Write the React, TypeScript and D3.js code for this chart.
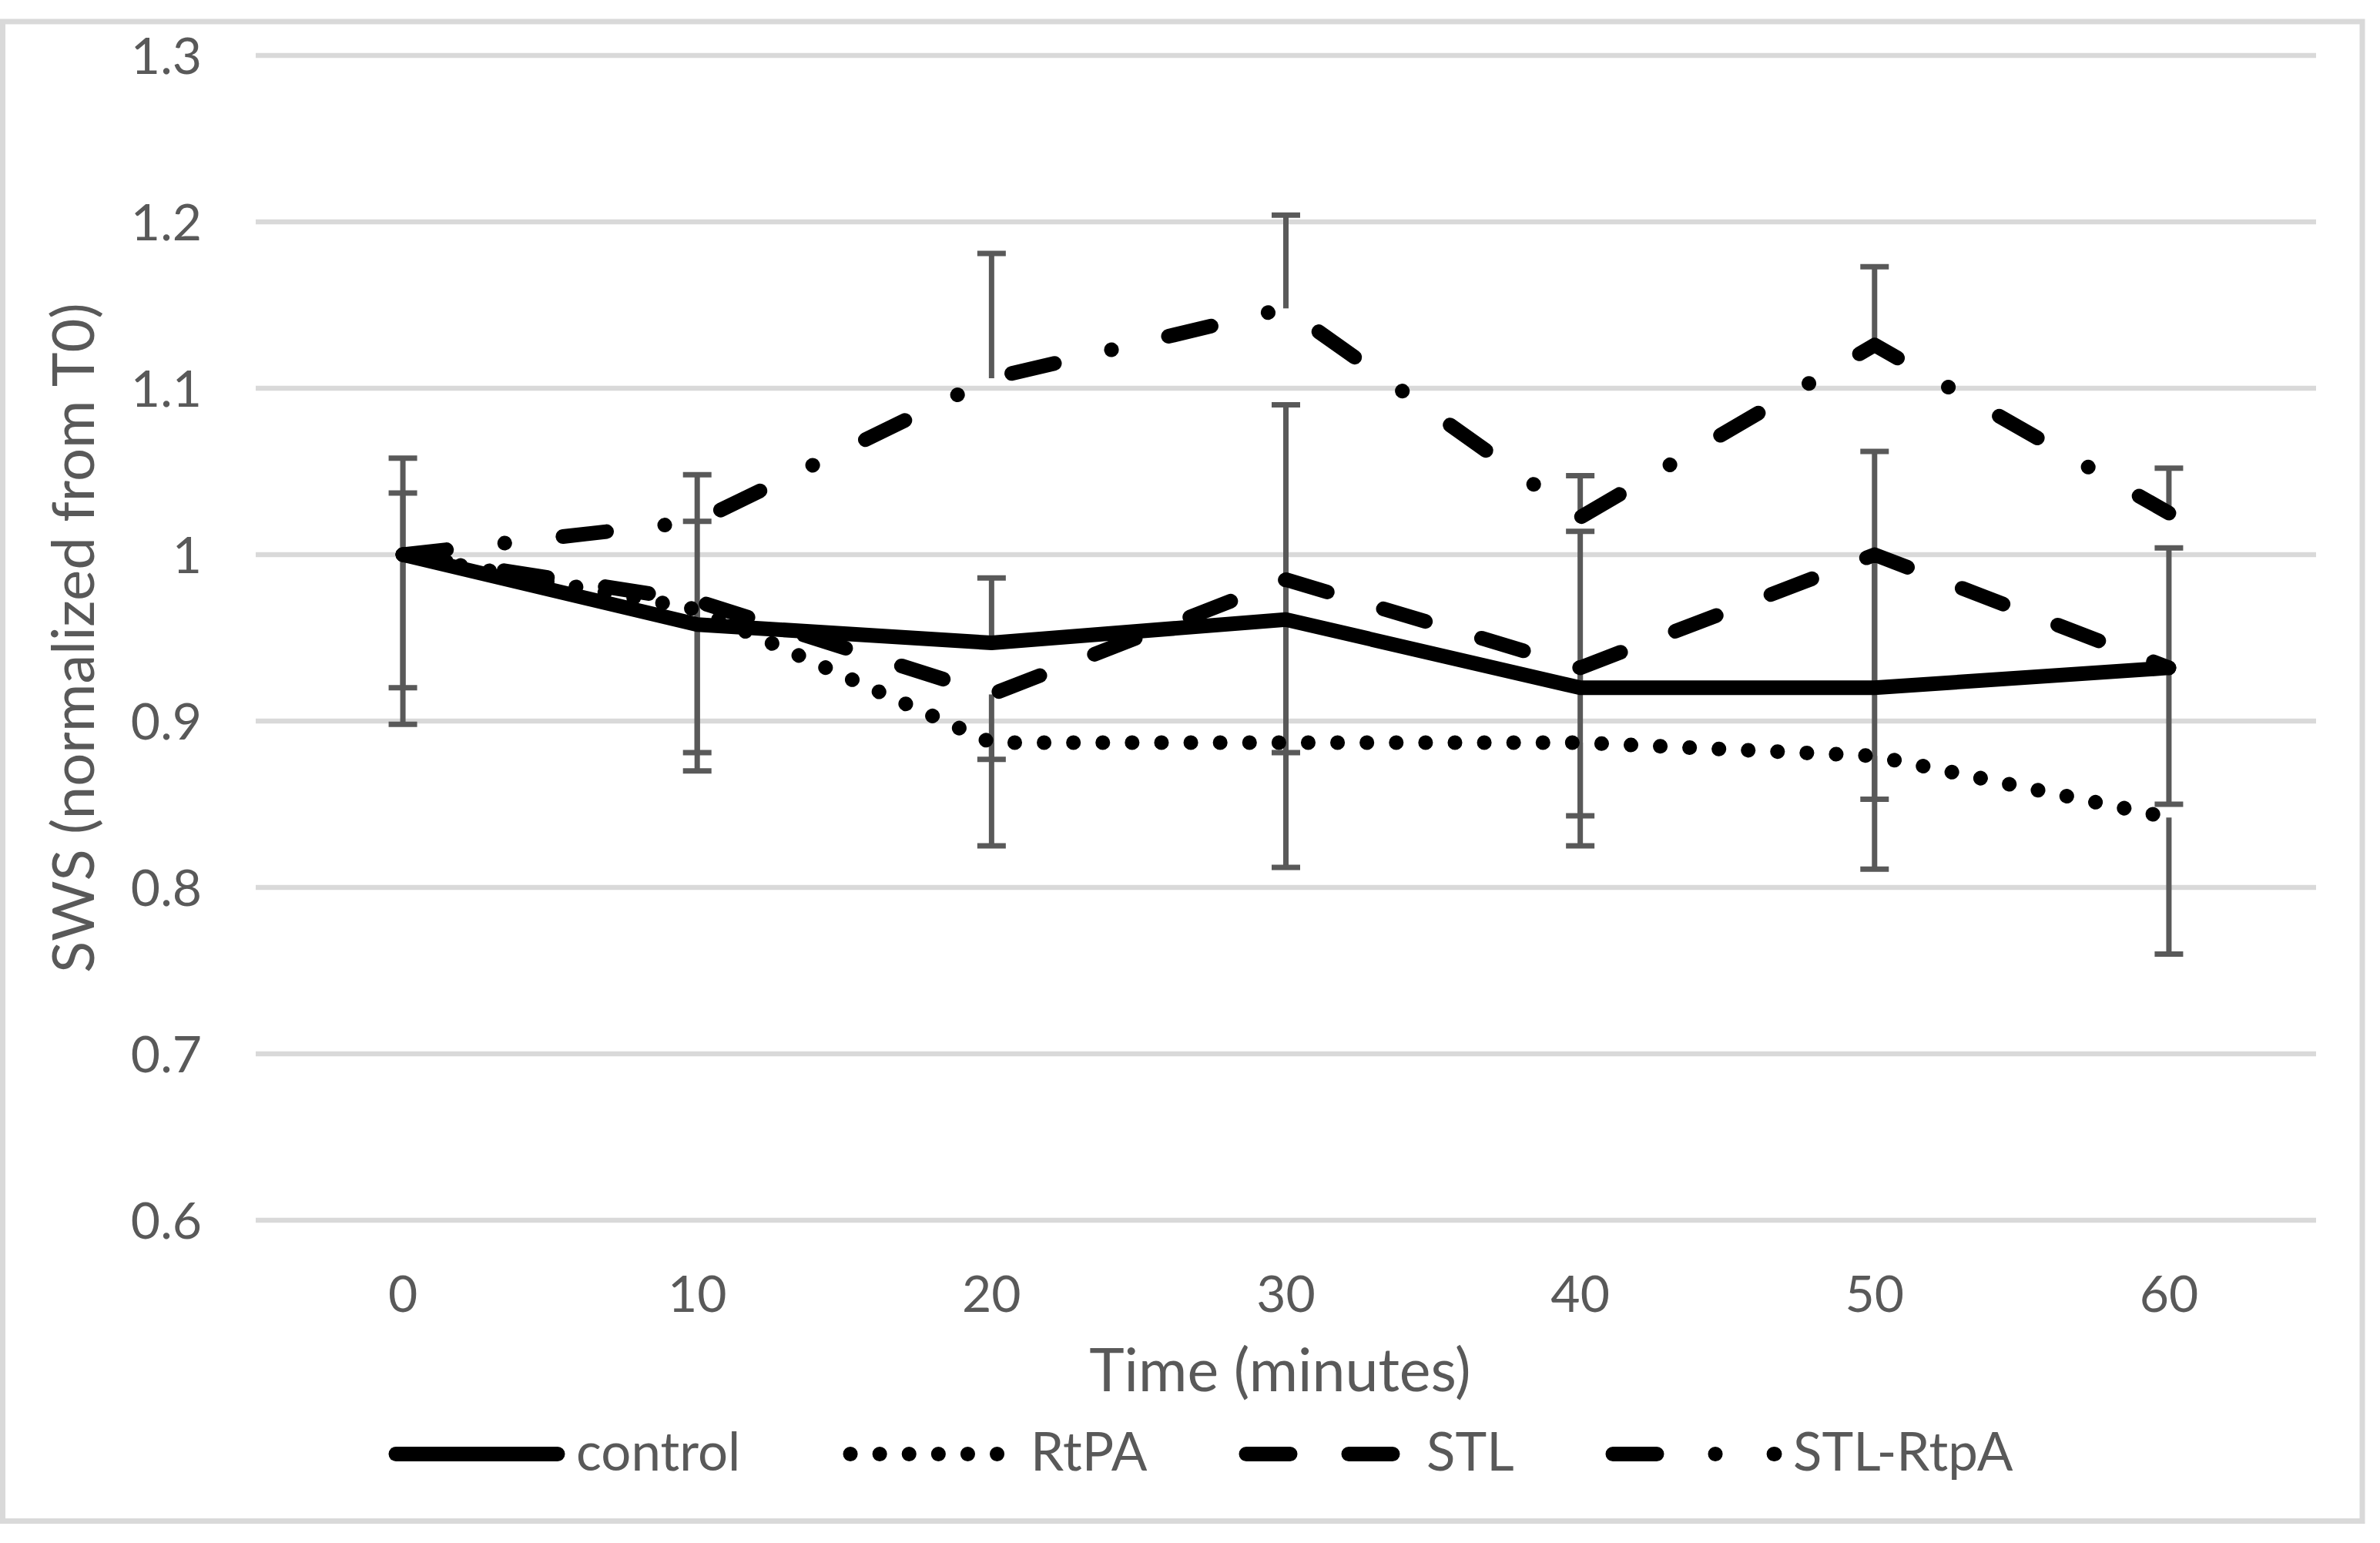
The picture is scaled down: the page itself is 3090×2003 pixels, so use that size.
import React from "react";
import * as d3 from "d3";

// ---- data ----
const times = [0, 10, 20, 30, 40, 50, 60];
const yTickValues = [0.6, 0.7, 0.8, 0.9, 1.0, 1.1, 1.2, 1.3];

const control = [1.0, 0.958, 0.947, 0.961, 0.92, 0.92, 0.932];
const rtpa = [1.0, 0.967, 0.887, 0.887, 0.887, 0.879, 0.842];
const stl = [1.0, 0.972, 0.916, 0.985, 0.932, 1.0, 0.932];
const stlRtpa = [1.0, 1.02, 1.106, 1.148, 1.0224, 1.126, 1.025];

// one-directional error bars (Excel style)
const controlErrPlus = [0.037, 0.062, 0.039, 0.129, 0.094, 0.142, 0.072];
const stlRtpaErrPlus = [0.058, 0.028, 0.075, 0.056, 0.025, 0.047, 0.027];
const rtpaErrMinus = [0.102, 0.097, 0.062, 0.075, 0.062, 0.068, 0.082];
const stlErrMinus = [0.08, 0.091, 0.039, 0.104, 0.089, 0.147, 0.082];

const seriesNames = ["control", "RtPA", "STL", "STL-RtpA"];
const xTitle = "Time (minutes)";
const yTitle = "SWS (normalized from T0)";

// ---- styling ----
const W = 3090;
const H = 2003;
const TEXT = "#595959";
const GRID = "#d9d9d9";
const FONT = "Lato, 'Open Sans', sans-serif";
const LW = 19;
const dashes: Record<string, string | undefined> = {
  control: undefined,
  RtPA: "0.1 38",
  STL: "57 76",
  "STL-RtpA": "57 76 0.1 76",
};

export default function App() {
  const x = d3.scalePoint<number>().domain(times).range([332, 3007]).padding(0.5);
  const y = d3.scaleLinear().domain([0.6, 1.3]).range([1584, 72]);

  const seriesValues: Record<string, number[]> = {
    control,
    RtPA: rtpa,
    STL: stl,
    "STL-RtpA": stlRtpa,
  };

  const line = d3
    .line<[number, number]>()
    .x((d) => x(d[0]) as number)
    .y((d) => y(d[1]));

  const errorSpecs = [
    { vals: control, errs: controlErrPlus, dir: 1 },
    { vals: stlRtpa, errs: stlRtpaErrPlus, dir: 1 },
    { vals: rtpa, errs: rtpaErrMinus, dir: -1 },
    { vals: stl, errs: stlErrMinus, dir: -1 },
  ];

  const fmt = (v: number) => String(Math.round(v * 10) / 10);

  const legendStarts = [514, 1104, 1618, 2094];
  const legendLen = 210;
  const legendY = 1887.5;

  return (
    <svg
      width={W}
      height={H}
      viewBox={`0 0 ${W} ${H}`}
      style={{ position: "absolute", left: 0, top: 0, background: "#fff" }}
    >
      <rect x={0} y={0} width={W} height={H} fill="#fff" />
      <rect
        x={3.5}
        y={28}
        width={3067 - 3.5}
        height={1974.5 - 28}
        fill="#fff"
        stroke={GRID}
        strokeWidth={7}
      />

      {/* gridlines */}
      {yTickValues.map((v) => (
        <line
          key={"g" + v}
          x1={332}
          x2={3007}
          y1={y(v)}
          y2={y(v)}
          stroke={GRID}
          strokeWidth={6.5}
        />
      ))}

      {/* y tick labels */}
      {yTickValues.map((v) => (
        <text
          key={"yt" + v}
          x={262}
          y={y(v)}
          dy="0.36em"
          textAnchor="end"
          fontFamily={FONT}
          fontSize={66}
          fill={TEXT}
        >
          {fmt(v)}
        </text>
      ))}

      {/* x tick labels */}
      {times.map((t) => (
        <text
          key={"xt" + t}
          x={x(t) as number}
          y={1703}
          textAnchor="middle"
          fontFamily={FONT}
          fontSize={66}
          fill={TEXT}
        >
          {t}
        </text>
      ))}

      {/* axis titles */}
      <text
        x={1662}
        y={1806}
        textAnchor="middle"
        fontFamily={FONT}
        fontSize={77}
        fill={TEXT}
      >
        {xTitle}
      </text>
      <text
        transform={`translate(122, ${(72 + 1584) / 2}) rotate(-90)`}
        textAnchor="middle"
        fontFamily={FONT}
        fontSize={76}
        fill={TEXT}
      >
        {yTitle}
      </text>

      {/* error bars */}
      {errorSpecs.map((s, si) =>
        times.map((t, i) => {
          const cx = x(t) as number;
          const y0 = y(s.vals[i]);
          const y1 = y(s.vals[i] + s.dir * s.errs[i]);
          return (
            <g key={`e${si}-${i}`} stroke={TEXT} strokeWidth={7}>
              <line x1={cx} x2={cx} y1={y0} y2={y1} />
              <line x1={cx - 18.5} x2={cx + 18.5} y1={y1} y2={y1} />
            </g>
          );
        })
      )}

      {/* series lines */}
      {seriesNames.map((name) => (
        <path
          key={"s" + name}
          d={line(times.map((t, i) => [t, seriesValues[name][i]]) as [number, number][]) || ""}
          fill="none"
          stroke="#000"
          strokeWidth={LW}
          strokeLinecap="round"
          strokeLinejoin="round"
          strokeDasharray={dashes[name]}
        />
      ))}

      {/* legend */}
      {seriesNames.map((name, i) => (
        <g key={"l" + name}>
          <line
            x1={legendStarts[i]}
            x2={legendStarts[i] + legendLen}
            y1={legendY}
            y2={legendY}
            stroke="#000"
            strokeWidth={LW}
            strokeLinecap="round"
            strokeDasharray={dashes[name]}
          />
          <text
            x={legendStarts[i] + 234}
            y={1909}
            fontFamily={FONT}
            fontSize={69}
            fill={TEXT}
          >
            {name}
          </text>
        </g>
      ))}
    </svg>
  );
}
